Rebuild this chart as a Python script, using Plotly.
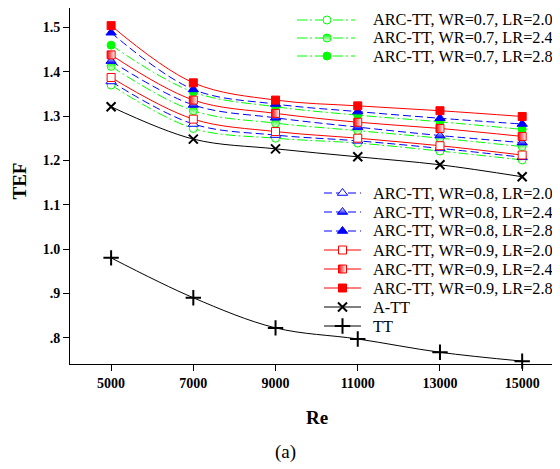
import plotly.graph_objects as go

# ---------------- data ----------------
Re = [5000, 7000, 9000, 11000, 13000, 15000]

g20 = [1.370, 1.272, 1.250, 1.239, 1.221, 1.201]
g24 = [1.412, 1.312, 1.284, 1.267, 1.250, 1.231]
g28 = [1.460, 1.354, 1.321, 1.302, 1.287, 1.270]
b20 = [1.378, 1.282, 1.257, 1.244, 1.227, 1.207]
b24 = [1.424, 1.325, 1.296, 1.275, 1.256, 1.240]
b28 = [1.488, 1.360, 1.327, 1.310, 1.295, 1.282]
r20 = [1.387, 1.293, 1.265, 1.250, 1.233, 1.212]
r24 = [1.438, 1.336, 1.306, 1.286, 1.272, 1.254]
r28 = [1.504, 1.375, 1.336, 1.323, 1.312, 1.299]
att = [1.321, 1.248, 1.226, 1.208, 1.190, 1.163]
tt = [0.980, 0.890, 0.822, 0.797, 0.767, 0.747]

x_ticks = [5000, 7000, 9000, 11000, 13000, 15000]
x_ticktext = ['5000', '7000', '9000', '11000', '13000', '15000']
y_ticks = [0.8, 0.9, 1.0, 1.1, 1.2, 1.3, 1.4, 1.5]
y_ticktext = ['.8', '.9', '1.0', '1.1', '1.2', '1.3', '1.4', '1.5']

names = ['ARC-TT, WR=0.7, LR=2.0', 'ARC-TT, WR=0.7, LR=2.4', 'ARC-TT, WR=0.7, LR=2.8',
         'ARC-TT, WR=0.8, LR=2.0', 'ARC-TT, WR=0.8, LR=2.4', 'ARC-TT, WR=0.8, LR=2.8',
         'ARC-TT, WR=0.9, LR=2.0', 'ARC-TT, WR=0.9, LR=2.4', 'ARC-TT, WR=0.9, LR=2.8',
         'A-TT', 'TT']

# ---------------- layout constants (reference-window pixels) ----------------
REF_W, REF_H = 560, 469
BODY = 8                      # default page margin around the plot div
BOX_L, BOX_R, BOX_T, BOX_B = 70, 560, 8, 364
W, H = REF_W - BODY, REF_H - BODY
ML, MR, MT, MB = BOX_L - BODY, REF_W - BOX_R, BOX_T - BODY, REF_H - BOX_B
PW, PH = BOX_R - BOX_L, BOX_B - BOX_T

Y_PX_PER_UNIT = 443.2
Y_REF_VAL, Y_REF_PX = 1.0, 249
y_range = [Y_REF_VAL - (BOX_B - Y_REF_PX) / Y_PX_PER_UNIT,
           Y_REF_VAL + (Y_REF_PX - BOX_T) / Y_PX_PER_UNIT]
x_range = [4000, 15920]

def fx(px):
    return (px - BOX_L) / PW

def fy(py):
    return (BOX_B - py) / PH

FONT = "Liberation Serif"
GREEN, BLUE, RED, BLACK = '#00FF00', '#0000FF', '#FF0000', '#000000'
DASH_G = '10px,3px,2px,3px'
DASH_B = '8px,4px'

def mk(symbol, color, fill, size=8, grad=None):
    m = dict(symbol=symbol, size=size, color=fill, line=dict(color=color, width=1))
    if grad:
        m['gradient'] = dict(type=grad[0], color=grad[1])
    return m

styles = [
    dict(color=GREEN, dash=DASH_G, marker=mk('circle', GREEN, 'white')),
    dict(color=GREEN, dash=DASH_G, marker=mk('circle', GREEN, GREEN, grad=('vertical', 'white'))),
    dict(color=GREEN, dash=DASH_G, marker=mk('circle', GREEN, GREEN)),
    dict(color=BLUE, dash=DASH_B, marker=mk('triangle-up', BLUE, 'white', 9)),
    dict(color=BLUE, dash=DASH_B, marker=mk('triangle-up', BLUE, 'white', 9, grad=('vertical', BLUE))),
    dict(color=BLUE, dash=DASH_B, marker=mk('triangle-up', BLUE, BLUE, 9)),
    dict(color=RED, dash='solid', marker=mk('square', RED, 'white')),
    dict(color=RED, dash='solid', marker=mk('square', RED, RED, grad=('horizontal', 'white'))),
    dict(color=RED, dash='solid', marker=mk('square', RED, RED)),
    dict(color=BLACK, dash='solid', marker=dict(symbol='x-thin', size=9, color=BLACK, line=dict(color=BLACK, width=2))),
    dict(color=BLACK, dash='solid', marker=dict(symbol='cross-thin', size=11, color=BLACK, line=dict(color=BLACK, width=2))),
]
values = [g20, g24, g28, b20, b24, b28, r20, r24, r28, att, tt]

fig = go.Figure()

draw_order = [10, 9, 0, 1, 2, 3, 4, 5, 6, 7, 8]
for i in draw_order:
    st = styles[i]
    fig.add_trace(go.Scatter(
        x=Re, y=values[i], mode='lines+markers', name=names[i], showlegend=False,
        line=dict(color=st['color'], width=1, dash=st['dash'], shape='spline', smoothing=1.0),
        marker=st['marker'], cliponaxis=False))

# ---------------- custom legends (overlay axes in plot-fraction units) ----------------
legend_groups = [
    dict(items=[0, 1, 2], rows_px=[20, 38, 56], x0=297, xm=327, x1=355, tx=371),
    dict(items=[3, 4, 5, 6, 7, 8, 9, 10], rows_px=[193, 212, 231, 250, 269, 288, 307, 326],
         x0=324, xm=342.5, x1=361, tx=371),
]
annotations = []
for grp in legend_groups:
    for i, rpx in zip(grp['items'], grp['rows_px']):
        st = styles[i]
        yy = fy(rpx)
        fig.add_trace(go.Scatter(
            x=[fx(grp['x0']), fx(grp['x1'])], y=[yy, yy], mode='lines', xaxis='x2', yaxis='y2',
            showlegend=False, hoverinfo='skip',
            line=dict(color=st['color'], width=1, dash=st['dash'])))
        fig.add_trace(go.Scatter(
            x=[fx(grp['xm'])], y=[yy], mode='markers', xaxis='x2', yaxis='y2',
            showlegend=False, hoverinfo='skip', marker=st['marker']))
        annotations.append(dict(
            x=fx(grp['tx']), y=yy, xref='paper', yref='paper', xanchor='left', yanchor='middle',
            text=names[i], showarrow=False, font=dict(family=FONT, size=16.3, color=BLACK)))

annotations += [
    dict(x=fx(18.5), y=fy(181), xref='paper', yref='paper', text='TEF', textangle=-90,
         showarrow=False, xanchor='center', yanchor='middle',
         font=dict(family=FONT, size=19, color=BLACK, weight='bold')),
    dict(x=fx(317), y=fy(417.5), xref='paper', yref='paper', text='Re',
         showarrow=False, xanchor='center', yanchor='middle',
         font=dict(family=FONT, size=19, color=BLACK, weight='bold')),
    dict(x=fx(285), y=fy(452), xref='paper', yref='paper', text='(a)',
         showarrow=False, xanchor='center', yanchor='middle',
         font=dict(family=FONT, size=19, color=BLACK)),
]

tickfont = dict(family=FONT, size=14, color=BLACK, weight='bold')
fig.update_layout(
    width=W, height=H,
    margin=dict(l=ML, r=MR, t=MT, b=MB, pad=0, autoexpand=False),
    paper_bgcolor='white', plot_bgcolor='white',
    showlegend=False,
    xaxis=dict(range=x_range, tickvals=x_ticks, ticktext=x_ticktext, ticks='outside', ticklen=6,
               tickwidth=1, tickcolor=BLACK, showline=True, linecolor=BLACK, linewidth=1,
               mirror=True, showgrid=False, zeroline=False, tickfont=tickfont, automargin=False),
    yaxis=dict(range=y_range, tickvals=y_ticks, ticktext=y_ticktext, ticks='outside',
               ticklen=6, tickwidth=1, tickcolor=BLACK, showline=True, linecolor=BLACK,
               linewidth=1, showgrid=False, zeroline=False, tickfont=tickfont, automargin=False),
    xaxis2=dict(overlaying='x', range=[0, 1], visible=False, fixedrange=True),
    yaxis2=dict(overlaying='y', range=[0, 1], visible=False, fixedrange=True),
    annotations=annotations,
)

fig.write_html("out.html")
